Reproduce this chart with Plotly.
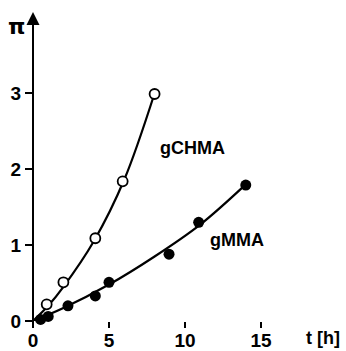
import plotly.graph_objects as go

# data
chma_t = [0.9, 2.0, 4.1, 5.9, 8.0]
chma_pi = [0.22, 0.51, 1.09, 1.84, 2.99]
chma_curve_t = [0, 1, 2, 4, 6, 8]
chma_curve_pi = [0, 0.2, 0.45, 1.05, 1.86, 3.0]

mma_t = [0.5, 1.0, 2.3, 4.1, 5.0, 8.95, 10.9, 14.0]
mma_pi = [0.02, 0.06, 0.2, 0.33, 0.51, 0.88, 1.3, 1.79]
mma_curve_t = [0, 2, 5, 8, 11, 14]
mma_curve_pi = [0, 0.17, 0.48, 0.85, 1.27, 1.8]

x_ticks = [0, 5, 10, 15]
y_ticks = [0, 1, 2, 3]

FONT = "Liberation Sans"
W, H = 346, 351
ML, MR, MT, MB = 33, 11, 12, 30

fig = go.Figure()
fig.add_trace(go.Scatter(x=chma_curve_t, y=chma_curve_pi, mode="lines",
                         line=dict(color="black", width=2.2, shape="spline"),
                         cliponaxis=False, hoverinfo="skip"))
fig.add_trace(go.Scatter(x=mma_curve_t, y=mma_curve_pi, mode="lines",
                         line=dict(color="black", width=2.2, shape="spline"),
                         cliponaxis=False, hoverinfo="skip"))
fig.add_trace(go.Scatter(x=chma_t, y=chma_pi, mode="markers",
                         marker=dict(symbol="circle", size=10, color="white",
                                     line=dict(color="black", width=1.8)),
                         cliponaxis=False))
fig.add_trace(go.Scatter(x=mma_t, y=mma_pi, mode="markers",
                         marker=dict(symbol="circle", size=11, color="black"),
                         cliponaxis=False))

# axes drawn as arrows
fig.add_annotation(x=20.0, y=0, ax=-0.2, ay=0, xref="x", yref="y", axref="x", ayref="y",
                   showarrow=True, arrowhead=2, arrowsize=1.3, arrowwidth=2, arrowcolor="black", text="")
fig.add_annotation(x=0, y=4.07, ax=0, ay=-0.05, xref="x", yref="y", axref="x", ayref="y",
                   showarrow=True, arrowhead=2, arrowsize=1.3, arrowwidth=2, arrowcolor="black", text="")

fig.add_annotation(x=10.5, y=2.28, xref="x", yref="y", text="gCHMA", showarrow=False,
                   font=dict(family=FONT, size=18, color="black", weight="bold"))
fig.add_annotation(x=13.4, y=1.07, xref="x", yref="y", text="gMMA", showarrow=False,
                   font=dict(family=FONT, size=18, color="black", weight="bold"))

pw = W - ML - MR
ph = H - MT - MB


def px2paper(px, py):
    return (px - ML) / pw, 1 - (py - MT) / ph


for txt, px, py, sz, fam in [("π", 16, 26, 22, "DejaVu Sans"), ("t [h]", 323, 338, 18, FONT)]:
    xx, yy = px2paper(px, py)
    fig.add_annotation(x=xx, y=yy, xref="paper", yref="paper", text=txt, showarrow=False,
                       xanchor="center", yanchor="middle",
                       font=dict(family=fam, size=sz, color="black", weight="bold"))

fig.update_layout(
    width=W, height=H,
    margin=dict(l=ML, r=MR, t=MT, b=MB),
    paper_bgcolor="white", plot_bgcolor="white",
    showlegend=False,
    xaxis=dict(range=[0, 19.87], tickvals=x_ticks, ticks="outside", ticklen=6, tickwidth=1.5,
               tickcolor="black", showgrid=False, zeroline=False, showline=False,
               automargin=False, ticklabelstandoff=-4,
               tickfont=dict(family=FONT, size=19, color="black", weight="bold")),
    yaxis=dict(range=[0, 4.07], tickvals=y_ticks, ticks="outside", ticklen=7, tickwidth=1.5,
               tickcolor="black", showgrid=False, zeroline=False, showline=False,
               automargin=False,
               tickfont=dict(family=FONT, size=19, color="black", weight="bold")),
)

fig.write_html("out.html", config={"displayModeBar": False},
               post_script="document.body.style.margin='0';document.body.style.overflow='hidden';")
